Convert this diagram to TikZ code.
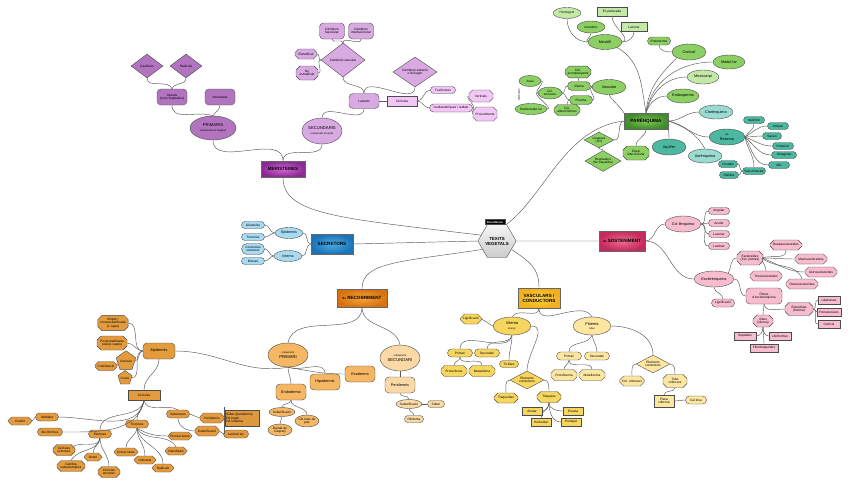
\documentclass[tikz,border=0pt]{standalone}
\usepackage{fontspec}
\setmainfont{Liberation Sans}
\usetikzlibrary{shapes.geometric,shapes.misc}
\definecolor{pur}{HTML}{B273BF}
\definecolor{purl}{HTML}{D9A9E2}
\definecolor{purll}{HTML}{F2C6F5}
\definecolor{grn}{HTML}{8CCF63}
\definecolor{grnl}{HTML}{C4E8A8}
\definecolor{tealA}{HTML}{4DB8A0}
\definecolor{tealL}{HTML}{9ADBD0}
\definecolor{pnk}{HTML}{F7BCCD}
\definecolor{blu}{HTML}{A8DAF2}
\definecolor{org}{HTML}{E39B3D}
\definecolor{orgm}{HTML}{F5B764}
\definecolor{orgl}{HTML}{FAD9A6}
\definecolor{yel}{HTML}{F6D65E}
\definecolor{yell}{HTML}{FCE6A0}
\definecolor{merI}{HTML}{D665DA}
\definecolor{merO}{HTML}{8A2A92}
\definecolor{secI}{HTML}{4AB0E6}
\definecolor{secO}{HTML}{1C72B4}
\definecolor{recI}{HTML}{F8A43A}
\definecolor{recO}{HTML}{D87210}
\definecolor{vasI}{HTML}{FFD348}
\definecolor{vasO}{HTML}{F2AE1C}
\definecolor{sosI}{HTML}{EE6A94}
\definecolor{sosO}{HTML}{C42A5C}
\definecolor{parI}{HTML}{80C456}
\definecolor{parO}{HTML}{3E8C2A}
\tikzset{
  every node/.style={font=\fontsize{3.2}{3.6}\selectfont, align=center, inner sep=0.5pt, line width=0.4pt, draw=black!70},
  wh/.style n args={2}{minimum width=#1, minimum height=#2},
  ell/.style={ellipse, inner sep=0pt},
  pill/.style={rounded rectangle, inner sep=0.5pt},
  rbox/.style={rectangle, rounded corners=4pt},
  oct/.style={chamfered rectangle, chamfered rectangle xsep=2pt, chamfered rectangle ysep=2pt},
  dia/.style={diamond, inner sep=0pt, aspect=1.4},
  pent/.style={regular polygon, regular polygon sides=5, inner sep=0pt},
  mainbox/.style={rectangle, font=\fontsize{4.6}{5.2}\selectfont\bfseries, draw=black!60, line width=0.6pt},
  c/.style={draw=black!65, line width=0.45pt},
}
\begin{document}
\begin{tikzpicture}[x=1pt,y=1pt]
\useasboundingbox (0,0) rectangle (848,-485);
\fill[white] (0,0) rectangle (848,-485);

% ---------- centre ----------
\node[regular polygon, regular polygon sides=6, minimum size=36, inner sep=0pt, top color=gray!8, bottom color=gray!40, font=\fontsize{4.4}{5}\selectfont\bfseries] (tv) at (497,-241) {TEXITS\\VEGETALS};
\node[fill=black, text=white, font=\fontsize{2.8}{3.2}\selectfont\bfseries, inner xsep=2pt, inner ysep=1.5pt] (tag) at (495,-222) {Eixa Mèxica};

\node[mainbox, wh={44}{16}, inner color=merI, outer color=merO] (mer) at (283,-169) {MERISTEMES};
\node[mainbox, wh={42}{20}, inner color=secI, outer color=secO] (sec) at (332,-244) {SECRETORS};
\node[mainbox, wh={50}{18}, inner color=recI, outer color=recO] (rec) at (362,-298) {{\fontsize{3}{3}\selectfont de} RECOBRIMENT};
\node[mainbox, wh={42}{20}, inner color=vasI, outer color=vasO] (vas) at (539,-298) {VASCULARS /\\CONDUCTORS};
\node[mainbox, wh={46}{20}, inner color=sosI, outer color=sosO] (sos) at (622,-241) {{\fontsize{3}{3}\selectfont de} SOSTENIMENT};
\node[mainbox, wh={44}{16}, inner color=parI, outer color=parO] (par) at (646,-121) {PARÈNQUIMA};

\draw[c] (mer.south) .. controls (283,-215) and (340,-218) .. (tv.160);
\draw[c] (sec.east) -- (tv.west);
\draw[c] (rec.north) .. controls (362,-262) and (400,-262) .. (tv.210);
\draw[c] (tv.-30) .. controls (530,-262) and (539,-268) .. (vas.north);
\draw[c] (tv.east) -- (sos.west);
\draw[c] (tv.60) .. controls (545,-195) and (565,-128) .. (par.west);

% ---------- MERISTEMES ----------
\begin{scope}[every node/.append style={fill=pur}]
\node[ell, wh={46}{24}, font=\fontsize{4.2}{4.6}\selectfont] (pri) at (213,-128) {PRIMARIS\\{\fontsize{2.6}{3}\selectfont creixement en longitud}};
\node[rbox, wh={30}{16}] (api) at (172,-97) {Apicals\\(cons vegetatius)};
\node[rbox, wh={30}{16}] (int) at (220,-97) {Intercalars};
\node[dia, wh={32}{24}] (cau) at (147,-66) {Caulinars};
\node[dia, wh={32}{24}] (rad) at (186,-66) {Radicals};
\end{scope}
\begin{scope}[every node/.append style={fill=purl}]
\node[ell, wh={40}{26}, font=\fontsize{4.2}{4.6}\selectfont] (secu) at (322,-131) {SECUNDARIS\\{\fontsize{2.6}{3}\selectfont creixement en gruix}};
\node[rbox, wh={30}{15}] (lat) at (364,-101) {Laterals};
\node[dia, wh={44}{34}] (cv) at (343,-60) {Càmbium vascular};
\node[rbox, wh={25}{16}] (cf) at (332,-31) {Càmbium\\fascicular};
\node[rbox, wh={25}{16}] (ci) at (361,-31) {Càmbium\\interfascicular};
\node[oct, wh={22}{10}] (est) at (306,-54) {Estratificat};
\node[oct, wh={22}{14}] (noest) at (307,-73) {No\\estratificat};
\node[dia, wh={44}{30}] (cs) at (415,-72) {Càmbium suberós\\o fel·logen};
\end{scope}
\begin{scope}[every node/.append style={fill=purll}]
\node[rectangle, wh={30}{10}] (cell) at (402,-101) {Cèl·lules};
\node[pill, wh={26}{7}] (fus) at (443,-90) {Fusiformes};
\node[pill, wh={44}{8}] (iso) at (451,-108) {Isodiamètriques / radials};
\node[oct, wh={24}{12}] (ver) at (481,-96) {Verticals};
\node[oct, wh={24}{14}] (pro) at (485,-114) {Procumbents};
\end{scope}
\draw[c] (cau.south) to[out=-90,in=110] (api.north);
\draw[c] (rad.south) to[out=-90,in=70] (api.north);
\draw[c] (api.south) to[out=-90,in=160] (pri.north);
\draw[c] (int.south) to[out=-90,in=60] (pri.north);
\draw[c] (pri.south) to[out=-90,in=90] (mer.north);
\draw[c] (secu.south) to[out=-90,in=90] (mer.north);
\draw[c] (lat.south) to[out=-90,in=90] (secu.north);
\draw[c] (cv.south) to[out=-90,in=90] (lat.north);
\draw[c] (cs.south) to[out=-90,in=90] (lat.north);
\draw[c] (lat.east) -- (cell.west);
\draw[c] (cell.east) to[out=0,in=180] (fus.west);
\draw[c] (cell.east) to[out=0,in=180] (iso.west);
\draw[c] (iso.east) to[out=0,in=180] (ver.west);
\draw[c] (iso.east) to[out=0,in=180] (pro.west);
\draw[c] (cf.south) to[out=-90,in=90] (cv.north);
\draw[c] (ci.south) to[out=-90,in=90] (cv.north);
\draw[c] (est.east) to[out=0,in=180] (cv.west);
\draw[c] (noest.east) to[out=0,in=180] (cv.west);

% ---------- PARENQUIMA ----------
\begin{scope}[every node/.append style={fill=grn}]
\node[ell, wh={34}{15}, font=\fontsize{3.8}{4.2}\selectfont] (mes) at (605,-42) {Mesòfil};
\node[ell, wh={28}{12}] (asi) at (591,-27) {Asimètric};
\node[pill, wh={24}{8}] (endo) at (659,-41) {Endoderma};
\node[ell, wh={34}{16}, font=\fontsize{3.8}{4.2}\selectfont] (cor) at (689,-52) {Cortical};
\node[ell, wh={32}{14}, font=\fontsize{3.8}{4.2}\selectfont] (med) at (729,-62) {Medul·lar};
\node[ell, wh={32}{14}, font=\fontsize{3.8}{4.2}\selectfont] (ends) at (683,-96) {Endosperma};
\node[ell, wh={34}{15}, font=\fontsize{3.8}{4.2}\selectfont] (vasc) at (609,-87) {Vascular};
\node[pill, wh={24}{9}] (xil) at (579,-86) {Xilema};
\node[pill, wh={24}{9}] (flo) at (581,-100) {Floema};
\node[oct, wh={22}{11}] (ca) at (578,-72) {Cèl.\\acompanyants};
\node[oct, wh={26}{11}] (calb) at (567,-110) {Cèl.\\albuminíferes};
\node[ell, wh={24}{12}] (cann) at (550,-93) {Cèl.\\annexes};
\node[ell, wh={22}{11}] (axi) at (530,-81) {Axial};
\node[ell, wh={32}{11}] (radm) at (531,-109) {Radiomedul·lar};
\node[dia, wh={30}{14}] (lleg) at (599,-140) {Llegenes\\(UV)};
\node[oct, wh={26}{14}] (espi) at (636,-153) {Espai\\intercel·lular};
\node[dia, wh={36}{16}] (regu) at (603,-161) {Reguladors\\(No traçables)};
\end{scope}
\begin{scope}[every node/.append style={fill=grnl}]
\node[ell, wh={28}{11}] (hom) at (567,-13) {Homogeni};
\node[rectangle, wh={30}{9}] (pal) at (612,-12) {En palissada};
\node[rectangle, wh={26}{9}] (lac) at (634,-27) {Lacunar};
\node[ell, wh={32}{14}, font=\fontsize{3.8}{4.2}\selectfont] (meso) at (703,-77) {Mesocarpi};
\end{scope}
\node[draw=none, rotate=90, font=\fontsize{2.6}{3}\selectfont] (ori) at (519,-95) {Orientació};
\begin{scope}[every node/.append style={fill=tealA}]
\node[ell, wh={36}{16}, font=\fontsize{3.8}{4.2}\selectfont] (res) at (727,-137) {{\fontsize{2.6}{3}\selectfont de}\\Reserva};
\node[ell, wh={34}{16}, font=\fontsize{3.8}{4.2}\selectfont] (aqu) at (669,-147) {Aqüífer};
\node[pill, wh={22}{7}] (inu) at (754,-120) {Inulinífer};
\node[pill, wh={22}{7}] (ami) at (778,-126) {Amilaci};
\node[pill, wh={20}{7}] (sac) at (772,-136) {Sacari};
\node[pill, wh={22}{7}] (prot) at (783,-146) {Proteínic};
\node[pill, wh={26}{7}] (ole) at (784,-155) {Oleaginós};
\node[pill, wh={22}{7}] (oli) at (779,-165) {Olis};
\node[pill, wh={20}{7}] (cri) at (728,-164) {Cristalls};
\node[pill, wh={20}{7}] (raf) at (729,-175) {Ràfides};
\node[pill, wh={24}{7}] (sal) at (754,-171) {Sals minerals};
\end{scope}
\begin{scope}[every node/.append style={fill=tealL}]
\node[ell, wh={34}{14}, font=\fontsize{3.8}{4.2}\selectfont] (clo) at (716,-112) {Clorènquima};
\node[ell, wh={34}{14}, font=\fontsize{3.8}{4.2}\selectfont] (aer) at (705,-156) {Aerènquima};
\end{scope}
\coordinate (rj) at (745,-137);
\draw[c] (mes.south east) to[out=-30,in=100] (par.north);
\draw[c] (cor.south west) to[out=-135,in=85] (par.north);
\draw[c] (med.west) to[out=180,in=80] (par.north);
\draw[c] (meso.west) to[out=180,in=75] (par.north);
\draw[c] (ends.west) to[out=180,in=70] (par.north);
\draw[c] (vasc.south) to[out=-60,in=120] (par.north west);
\draw[c] (hom.south) to[out=-90,in=180] (mes.west);
\draw[c] (asi.south) to[out=-90,in=170] (mes.west);
\draw[c] (pal.south) to[out=-90,in=20] (mes.east);
\draw[c] (lac.south) to[out=-90,in=0] (mes.east);
\draw[c] (endo.south) to[out=-90,in=180] (cor.west);
\draw[c] (xil.east) -- (vasc.west);
\draw[c] (flo.east) to[out=0,in=200] (vasc.west);
\draw[c] (ca.south) -- (xil.north);
\draw[c] (calb.north) to[out=70,in=200] (flo.west);
\draw[c] (cann.east) to[out=0,in=180] (xil.west);
\draw[c] (cann.east) to[out=0,in=180] (flo.west);
\draw[c] (axi.east) to[out=0,in=180] (cann.west);
\draw[c] (radm.east) to[out=0,in=180] (cann.west);
\draw[c] (lleg.east) to[out=0,in=200] (par.west);
\draw[c] (espi.north) to[out=90,in=-90] (par.south);
\draw[c] (regu.north) to[out=90,in=-90] (lleg.south);
\draw[c] (par.east) to[out=0,in=180] (clo.west);
\draw[c] (par.east) to[out=-10,in=180] (res.west);
\draw[c] (par.south east) to[out=-80,in=90] (aqu.north);
\draw[c] (par.east) to[out=-20,in=120] (aer.north);
\draw[c] (res.east) -- (rj);
\draw[c] (rj) to[out=60,in=-90] (inu.south);
\draw[c] (rj) to[out=30,in=180] (ami.west);
\draw[c] (rj) to[out=0,in=180] (sac.west);
\draw[c] (rj) to[out=-20,in=180] (prot.west);
\draw[c] (rj) to[out=-40,in=180] (ole.west);
\draw[c] (rj) to[out=-60,in=180] (oli.west);
\draw[c] (rj) to[out=-80,in=90] (sal.north);
\draw[c] (cri.east) to[out=0,in=180] (sal.west);
\draw[c] (raf.east) to[out=0,in=180] (sal.west);

% ---------- SOSTENIMENT ----------
\begin{scope}[every node/.append style={fill=pnk}]
\node[ell, wh={36}{16}, font=\fontsize{3.8}{4.2}\selectfont] (col) at (683,-224) {Col·lènquima};
\node[pill, wh={22}{7}] (ang) at (719,-211) {Angular};
\node[pill, wh={22}{7}] (anu) at (719,-223) {Anular};
\node[pill, wh={22}{7}] (lacu) at (719,-234) {Lacunar};
\node[pill, wh={22}{7}] (lam) at (719,-246) {Laminar};
\node[ell, wh={40}{16}, font=\fontsize{3.8}{4.2}\selectfont] (esc) at (714,-279) {Esclerènquima};
\node[pill, wh={24}{8}] (lig) at (723,-303) {Lignificació};
\node[oct, wh={26}{14}] (escl) at (750,-258) {Esclereïdes\\(Cèl. pètries)};
\node[oct, wh={32}{10}] (bra) at (786,-245) {Braquiesclereïdes};
\node[oct, wh={32}{10}] (mac) at (811,-259) {Macroesclereïdes};
\node[oct, wh={32}{10}] (ast) at (821,-272) {Astroesclereïdes};
\node[oct, wh={32}{10}] (ost) at (802,-284) {Osteoesclereïdes};
\node[oct, wh={32}{10}] (tri) at (766,-276) {Tricoesclereïdes};
\node[rbox, wh={36}{16}] (fib) at (764,-296) {Fibres\\d'esclerènquima};
\node[oct, wh={28}{13}] (ext) at (799,-309) {Extraxilars\\(floema)};
\node[oct, wh={20}{12}] (xils) at (763,-321) {Xilars\\(xilema)};
\node[rectangle, wh={22}{8}] (lib) at (829,-300) {Liberianes};
\node[rectangle, wh={24}{8}] (perv) at (829,-312) {Perivasculars};
\node[rectangle, wh={22}{8}] (corr) at (829,-324) {Cortical};
\node[rectangle, wh={22}{8}] (sep) at (745,-336) {Septades};
\node[rectangle, wh={22}{8}] (libf) at (780,-336) {Libriformes};
\node[rectangle, wh={28}{8}] (fibt) at (764,-348) {Fibrotraqueides};
\end{scope}
\coordinate (ej) at (762,-258);
\draw[c] (sos.east) to[out=0,in=180] (col.west);
\draw[c] (sos.east) to[out=0,in=180] (esc.west);
\draw[c] (col.east) to[out=0,in=180] (ang.west);
\draw[c] (col.east) to[out=0,in=180] (anu.west);
\draw[c] (col.east) to[out=0,in=180] (lacu.west);
\draw[c] (col.east) to[out=0,in=180] (lam.west);
\draw[c] (esc.north east) to[out=60,in=180] (escl.west);
\draw[c] (esc.east) to[out=0,in=180] (fib.west);
\draw[c] (esc.south) to[out=-90,in=90] (lig.north);
\draw[c] (escl.east) -- (ej);
\draw[c] (ej) to[out=20,in=-90] (bra.south);
\draw[c] (ej) to[out=0,in=180] (mac.west);
\draw[c] (ej) to[out=-20,in=180] (ast.west);
\draw[c] (ej) to[out=-40,in=110] (ost.north);
\draw[c] (ej) to[out=-90,in=90] (tri.north);
\draw[c] (fib.south) to[out=-90,in=90] (xils.north);
\draw[c] (fib.south) to[out=-80,in=180] (ext.west);
\draw[c] (ext.east) to[out=0,in=180] (lib.west);
\draw[c] (ext.east) to[out=0,in=180] (perv.west);
\draw[c] (ext.east) to[out=0,in=180] (corr.west);
\draw[c] (xils.south) to[out=-90,in=0] (sep.east);
\draw[c] (xils.south) to[out=-90,in=180] (libf.west);
\draw[c] (xils.south) to[out=-90,in=90] (fibt.north);

% ---------- VASCULARS ----------
\begin{scope}[every node/.append style={fill=yel}]
\node[ell, wh={38}{18}, font=\fontsize{4}{4.4}\selectfont] (xilv) at (512,-326) {Xilema\\{\fontsize{2.6}{3}\selectfont Llenys}};
\node[oct, wh={20}{10}] (ligv) at (471,-319) {Lignificació};
\node[pill, wh={26}{8}] (prix) at (460,-353) {Primari};
\node[pill, wh={26}{8}] (secx) at (487,-353) {Secundari};
\node[oct, wh={26}{11}] (protx) at (454,-371) {Protoxilema};
\node[oct, wh={26}{11}] (metx) at (482,-371) {Metaxilema};
\node[pill, wh={20}{7}] (til) at (509,-364) {Tíl·lides};
\node[dia, wh={34}{18}] (elx) at (527,-380) {Elements\\conductors};
\node[oct, wh={24}{10}] (traq) at (506,-398) {Traqueides};
\node[oct, wh={24}{11}] (traqs) at (549,-397) {Tràquees};
\node[rectangle, wh={20}{8}] (anr) at (532,-411) {Anular};
\node[rectangle, wh={20}{8}] (escr) at (573,-411) {Escala};
\node[rectangle, wh={20}{8}] (hel) at (541,-422) {Helicoidal};
\node[rectangle, wh={20}{8}] (pun) at (571,-422) {Puntejat};
\end{scope}
\begin{scope}[every node/.append style={fill=yell}]
\node[ell, wh={38}{18}, font=\fontsize{4}{4.4}\selectfont] (flov) at (592,-326) {Floema\\{\fontsize{2.6}{3}\selectfont Liber}};
\node[pill, wh={26}{8}] (prif) at (569,-356) {Primari};
\node[pill, wh={26}{8}] (secf) at (597,-356) {Secundari};
\node[oct, wh={26}{11}] (protf) at (564,-375) {Protofloema};
\node[oct, wh={26}{11}] (metf) at (592,-375) {Metafloema};
\node[dia, wh={34}{18}] (elf) at (653,-364) {Elements\\conductors};
\node[oct, wh={24}{10}] (ccri) at (632,-381) {Cèl. cribroses};
\node[oct, wh={24}{13}] (tubs) at (675,-381) {Tubs\\cribrosos};
\node[rectangle, wh={20}{12}] (pla) at (664,-401) {Placa\\cribrosa};
\node[pill, wh={22}{8}] (cal) at (696,-400) {Cal·losa};
\end{scope}
\draw[c] (vas.south) to[out=-90,in=60] (xilv.north);
\draw[c] (vas.south) to[out=-90,in=120] (flov.north);
\draw[c] (xilv.west) -- (ligv.east);
\draw[c] (xilv.south) to[out=-100,in=90] (prix.north);
\draw[c] (xilv.south) to[out=-100,in=90] (secx.north);
\draw[c] (xilv.south) to[out=-90,in=90] (til.north);
\draw[c] (xilv.east) to[out=0,in=90] (elx.north);
\draw[c] (prix.south) to[out=-90,in=90] (protx.north);
\draw[c] (prix.south) to[out=-90,in=90] (metx.north);
\draw[c] (elx.west) to[out=180,in=90] (traq.north);
\draw[c] (elx.east) to[out=0,in=90] (traqs.north);
\draw[c] (traqs.south) to[out=-90,in=0] (anr.east);
\draw[c] (traqs.south) to[out=-90,in=180] (escr.west);
\draw[c] (traqs.south) to[out=-90,in=90] (hel.north);
\draw[c] (traqs.south) to[out=-90,in=180] (pun.west);
\draw[c] (flov.south) to[out=-110,in=90] (prif.north);
\draw[c] (flov.south) to[out=-80,in=90] (secf.north);
\draw[c] (flov.east) to[out=0,in=90] (elf.north);
\draw[c] (prif.south) to[out=-90,in=90] (protf.north);
\draw[c] (prif.south) to[out=-90,in=90] (metf.north);
\draw[c] (elf.west) to[out=180,in=90] (ccri.north);
\draw[c] (elf.east) to[out=0,in=90] (tubs.north);
\draw[c] (tubs.south) to[out=-90,in=90] (pla.north);
\draw[c] (pla.east) -- (cal.west);

% ---------- RECOBRIMENT ----------
\begin{scope}[every node/.append style={fill=orgm}]
\node[ell, wh={40}{24}, font=\fontsize{4.2}{4.6}\selectfont] (cpri) at (288,-355) {{\fontsize{2.6}{3}\selectfont creixement}\\PRIMARI};
\node[rbox, wh={30}{16}, font=\fontsize{3.8}{4.2}\selectfont] (exo) at (360,-374) {Exoderma};
\node[rbox, wh={30}{16}, font=\fontsize{3.8}{4.2}\selectfont] (hip) at (325,-382) {Hipodermis};
\node[rbox, wh={30}{16}, font=\fontsize{3.8}{4.2}\selectfont] (endr) at (291,-392) {Endoderma};
\node[ell, wh={26}{9}] (sube) at (282,-412) {Suberificació};
\node[ell, wh={24}{12}] (cpas) at (307,-421) {Cèl·lules de\\pas};
\node[ell, wh={24}{12}] (ban) at (280,-430) {Banda de\\Caspary};
\end{scope}
\begin{scope}[every node/.append style={fill=orgl}]
\node[ell, wh={40}{26}, font=\fontsize{4.2}{4.6}\selectfont] (csec) at (400,-358) {{\fontsize{2.6}{3}\selectfont creixement}\\SECUNDARI};
\node[rbox, wh={30}{16}, font=\fontsize{3.8}{4.2}\selectfont] (peri) at (400,-385) {Peridermis};
\node[ell, wh={26}{9}] (subs) at (409,-404) {Suberificació};
\node[pill, wh={18}{7}] (sub) at (436,-404) {Súber};
\node[pill, wh={20}{7}] (rit) at (414,-419) {Ritidoma};
\end{scope}
\begin{scope}[every node/.append style={fill=org}]
\node[rbox, wh={32}{16}, font=\fontsize{3.8}{4.2}\selectfont] (epi) at (159,-351) {Epidermis};
\node[oct, wh={30}{14}] (sim) at (113,-323) {Simple /\\monoestratificada\\(1 capa)};
\node[oct, wh={30}{14}] (plu) at (112,-343) {Pluriestratificada\\(varies capes)};
\node[pent, minimum size=15] (cut) at (126,-361) {Cutícula};
\node[oct, wh={22}{9}] (cuti) at (106,-366) {Cutinització};
\node[pent, minimum size=13] (cer) at (125,-378) {Ceres};
\node[rectangle, wh={32}{10}] (cells) at (144,-395) {Cèl·lules};
\node[pill, wh={24}{8}] (idio) at (47,-417) {Idioblast};
\node[oct, wh={24}{8}] (cis) at (20,-421) {Cistòlit};
\node[pill, wh={26}{8}] (bul) at (50,-432) {Bul·liformes};
\node[pill, wh={24}{8}] (esto) at (100,-434) {Estomes};
\node[pill, wh={24}{8}] (tric) at (137,-424) {Tricomes};
\node[pill, wh={24}{8}] (subr) at (178,-414) {Suberoses};
\node[oct, wh={22}{11}] (ocl) at (64,-450) {Cèl·lules\\oclusives};
\node[oct, wh={18}{8}] (ost2) at (93,-457) {Ostiol};
\node[oct, wh={28}{10}] (cam) at (71,-466) {Cambra\\subestomàtica};
\node[oct, wh={22}{11}] (cann2) at (109,-472) {Cèl·lules\\annexes};
\node[oct, wh={24}{8}] (uni) at (126,-452) {Unicel·lulars};
\node[oct, wh={22}{8}] (urt) at (145,-460) {Urticants};
\node[oct, wh={22}{8}] (radi) at (163,-468) {Radicals};
\node[oct, wh={22}{8}] (gla) at (176,-451) {Glandulars};
\node[oct, wh={24}{8}] (plc) at (180,-436) {Pluricel·lulars};
\node[oct, wh={24}{10}] (pdm) at (212,-418) {Peridermis};
\node[oct, wh={24}{10}] (subf) at (207,-431) {Suberificació};
\node[pill, wh={26}{8}] (len) at (236,-434) {Lenticel·les};
\node[rectangle, wh={34}{16}, align=left, fill=org!90!brown, text width=32] (sfb) at (242,-418) {Súber (peridermis)\\Fel·logen\\Fel·loderma};
\end{scope}
\coordinate (bt) at (224,-407);
\coordinate (bb) at (224,-434);
\draw[c] (bt) -- (bb);
\draw[c] (rec.south) to[out=-90,in=80] (cpri.north);
\draw[c] (rec.south) to[out=-90,in=100] (csec.north);
\draw[c] (cpri.south) to[out=-170,in=0] (epi.east);
\draw[c] (cpri.south) to[out=-10,in=180] (exo.west);
\draw[c] (cpri.south) to[out=-20,in=90] (hip.north);
\draw[c] (cpri.south) to[out=-90,in=90] (endr.north);
\draw[c] (endr.south) to[out=-90,in=90] (sube.north);
\draw[c] (endr.south) to[out=-90,in=90] (cpas.north);
\draw[c] (sube.south) -- (ban.north);
\draw[c] (csec.south) -- (peri.north);
\draw[c] (peri.south) to[out=-90,in=90] (subs.north);
\draw[c] (subs.east) -- (sub.west);
\draw[c] (subs.south) to[out=-90,in=90] (rit.north);
\draw[c] (epi.south) to[out=-90,in=90] (cells.north);
\draw[c] (sim.east) to[out=0,in=180] (epi.west);
\draw[c] (plu.east) to[out=0,in=180] (epi.west);
\draw[c] (cut.east) to[out=0,in=180] (epi.west);
\draw[c] (cer.east) to[out=0,in=180] (epi.west);
\draw[c] (cuti.east) -- (cut.west);
\draw[c] (cells.south) to[out=-100,in=0] (idio.east);
\draw[c] (cells.south) to[out=-100,in=0] (bul.east);
\draw[c] (cells.south) to[out=-100,in=90] (esto.north);
\draw[c] (cells.south) to[out=-95,in=90] (tric.north);
\draw[c] (cells.south) to[out=-80,in=150] (subr.north);
\draw[c] (idio.west) -- (cis.east);
\draw[c] (esto.south) to[out=-100,in=30] (ocl.north east);
\draw[c] (esto.south) to[out=-90,in=90] (ost2.north);
\draw[c] (esto.south) to[out=-100,in=60] (cam.north);
\draw[c] (esto.south) to[out=-90,in=90] (cann2.north);
\draw[c] (tric.south) to[out=-100,in=90] (uni.north);
\draw[c] (tric.south) to[out=-90,in=90] (urt.north);
\draw[c] (tric.south) to[out=-80,in=90] (radi.north);
\draw[c] (tric.south) to[out=-60,in=120] (gla.north);
\draw[c] (tric.south) to[out=-30,in=180] (plc.west);
\draw[c] (subr.east) -- (pdm.west);
\draw[c] (subr.south) to[out=-90,in=180] (subf.west);
\draw[c] (pdm.east) -- (sfb.west);
\draw[c] (subf.east) -- (len.west);

% ---------- SECRETORS ----------
\begin{scope}[every node/.append style={fill=blu}]
\node[ell, wh={28}{11}, font=\fontsize{3.6}{4}\selectfont] (epis) at (289,-233) {Epidermis};
\node[ell, wh={28}{11}, font=\fontsize{3.6}{4}\selectfont] (intr) at (288,-256) {Interna};
\node[pill, wh={24}{7}] (glan) at (253,-225) {Glàndules};
\node[pill, wh={24}{7}] (tris) at (253,-237) {Tricomes};
\node[pill, wh={24}{11}] (cond) at (253,-249) {Conductes\\secretors};
\node[pill, wh={24}{7}] (bos) at (253,-261) {Bosses};
\end{scope}
\draw[c] (sec.west) to[out=180,in=0] (epis.east);
\draw[c] (sec.west) to[out=180,in=0] (intr.east);
\draw[c] (epis.west) to[out=180,in=0] (glan.east);
\draw[c] (epis.west) to[out=180,in=0] (tris.east);
\draw[c] (intr.west) to[out=180,in=0] (cond.east);
\draw[c] (intr.west) to[out=180,in=0] (bos.east);
\end{tikzpicture}
\end{document}
